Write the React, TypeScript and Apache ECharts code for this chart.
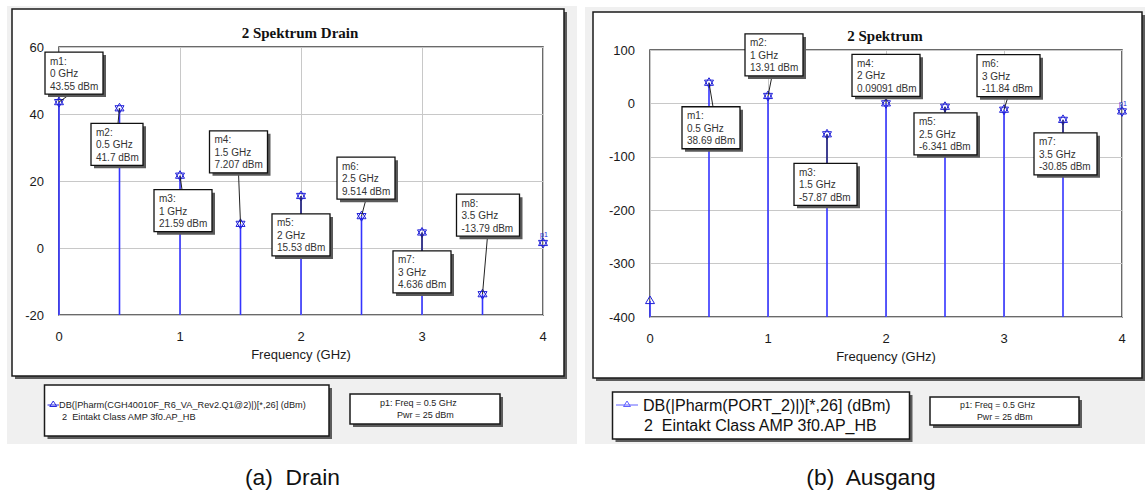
import { useEffect, useRef } from "react";
import * as echarts from "echarts";

// Harmonic frequencies (GHz) shared by both spectra
const freqGHz = [0, 0.5, 1, 1.5, 2, 2.5, 3, 3.5];

// Drain spectrum, dBm
const drainDbm = [43.55, 41.7, 21.59, 7.207, 15.53, 9.514, 4.636, -13.79];
const drainMarkers = ["m1", "m2", "m3", "m4", "m5", "m6", "m7", "m8"];

// Output (PORT_2) spectrum, dBm
const ausgangDbm = [-370, 38.69, 13.91, -57.87, 0.09091, -6.341, -11.84, -30.85];
const ausgangMarkers = ["", "m1", "m2", "m3", "m4", "m5", "m6", "m7"];

// p1 parameter marker at the end of the sweep
const p1FreqGHz = 4;
const drainP1Dbm = 1.5;
const ausgangP1Dbm = -15;

// Axis ranges: [min, max, step]
const freqAxis = [0, 4, 1];
const drainAxis = [-20, 60, 20];
const ausgangAxis = [-400, 100, 100];

// Texts
const drainTitle = "2 Spektrum Drain";
const ausgangTitle = "2 Spektrum";
const xAxisName = "Frequency (GHz)";
const drainLegend = ["DB(|Pharm(CGH40010F_R6_VA_Rev2.Q1@2)|)[*,26] (dBm)", "2  Eintakt Class AMP 3f0.AP_HB"];
const ausgangLegend = ["DB(|Pharm(PORT_2)|)[*,26] (dBm)", "2  Eintakt Class AMP 3f0.AP_HB"];
const p1Info = ["p1: Freq = 0.5 GHz", "Pwr = 25 dBm"];
const captions = ["(a)  Drain", "(b)  Ausgang"];

// Marker box placement relative to its point: [dx, dy, leader anchor x inside box]
const drainBoxLayout = [
  [-14, -50, 25],
  [-28.5, 15, 27],
  [-26, 14, 28],
  [-31, -93, 29],
  [-29, 18, 29],
  [-24.5, -59, 29],
  [-29, 18.5, 29],
  [-26, -100, 31],
];
const ausgangBoxLayout = [
  [-27, 24, 31],
  [-23, -62, 27],
  [-33, 29, 33],
  [-34, -49, 34],
  [-31, 6, 31],
  [-27, -55, 31],
  [-29, 13, 29],
];

const SANS = '"Liberation Sans", Arial, sans-serif';
const SERIF = '"Liberation Serif", "Times New Roman", serif';
const LINE_BLUE = "#3434ff";
const STAR_BLUE = "#2020d8";
const BOX_H = 42;

const upTri = (x: number, y: number) => ({
  type: "polygon",
  shape: { points: [[x, y - 5], [x + 4.5, y + 2.6], [x - 4.5, y + 2.6]] },
  style: { fill: "none", stroke: STAR_BLUE, lineWidth: 1 },
});
const downTri = (x: number, y: number) => ({
  type: "polygon",
  shape: { points: [[x, y + 5], [x + 4.5, y - 2.6], [x - 4.5, y - 2.6]] },
  style: { fill: "none", stroke: STAR_BLUE, lineWidth: 1 },
});

const spectrumRender = (yMin: number) => (_params: any, api: any) => {
  const f = api.value(0);
  const v = api.value(1);
  const marked = api.value(2) === 1;
  const top = api.coord([f, v]);
  const bottom = api.coord([f, yMin]);
  const children: any[] = [
    {
      type: "line",
      shape: { x1: top[0], y1: bottom[1], x2: top[0], y2: top[1] },
      style: { stroke: LINE_BLUE, lineWidth: 1.6 },
    },
    upTri(top[0], top[1]),
  ];
  if (marked) children.push(downTri(top[0], top[1]));
  return { type: "group", children };
};

const p1Render = (_params: any, api: any) => {
  const p = api.coord([api.value(0), api.value(1)]);
  return {
    type: "group",
    children: [
      downTri(p[0], p[1]),
      upTri(p[0], p[1]),
      {
        type: "text",
        x: p[0] - 3,
        y: p[1] - 8,
        style: { text: "p1", font: `7px ${SANS}`, fill: STAR_BLUE, align: "left", verticalAlign: "middle" },
      },
    ],
  };
};

type Marked = { n: string; f: number; v: number };
const markedPoints = (names: string[], values: number[]): Marked[] =>
  names
    .map((n, i) => (n ? { n, f: freqGHz[i], v: values[i] } : null))
    .filter((p): p is Marked => p !== null);

const boxRender = (points: Marked[], layout: number[][]) => (_params: any, api: any) => {
  const k = api.value(2);
  const pt = points[k];
  const [px, py] = api.coord([api.value(0), api.value(1)]);
  const [dx, dy, ax] = layout[k];
  const lines = [`${pt.n}:`, `${pt.f} GHz`, `${pt.v} dBm`];
  const w = Math.round(Math.max(...lines.map((s) => s.length)) * 5.3 + 10);
  const bx = px + dx;
  const by = py + dy;
  const anchorY = dy < 0 ? by + BOX_H : by;
  return {
    type: "group",
    children: [
      {
        type: "line",
        shape: { x1: bx + ax, y1: anchorY, x2: px, y2: py },
        style: { stroke: "#222", lineWidth: 1 },
      },
      { type: "rect", shape: { x: bx + 3, y: by + 3, width: w, height: BOX_H }, style: { fill: "#5a5a5a" } },
      {
        type: "rect",
        shape: { x: bx, y: by, width: w, height: BOX_H },
        style: { fill: "#fff", stroke: "#111", lineWidth: 1.3 },
      },
      ...lines.map((s, j) => ({
        type: "text",
        x: bx + 5,
        y: by + 9 + j * 12.5,
        style: { text: s, font: `10px ${SANS}`, fill: "#333", align: "left", verticalAlign: "middle" },
      })),
    ],
  };
};

const xAxisFor = (gridIndex: number, nameGap: number) => ({
  gridIndex,
  type: "value",
  min: freqAxis[0],
  max: freqAxis[1],
  interval: freqAxis[2],
  axisLine: { show: false },
  axisTick: { show: false },
  splitLine: { show: true, lineStyle: { color: "#c8c8c8", width: 1 } },
  axisLabel: { margin: 15, fontSize: 13, color: "#1a1a1a", fontFamily: SANS },
  name: xAxisName,
  nameLocation: "middle",
  nameGap,
  nameTextStyle: { fontSize: 13, color: "#1a1a1a", fontFamily: SANS },
});

const yAxisFor = (gridIndex: number, range: number[]) => ({
  gridIndex,
  type: "value",
  min: range[0],
  max: range[1],
  interval: range[2],
  axisLine: { show: false },
  axisTick: { show: false },
  splitLine: { show: true, lineStyle: { color: "#c8c8c8", width: 1 } },
  axisLabel: { margin: 15, fontSize: 13, color: "#1a1a1a", fontFamily: SANS },
});

const panel = (x: number, y: number, w: number, h: number, stroke = "#1a1a1a") => [
  { type: "rect", z: -10, shape: { x: x + 3, y: y + 3, width: w, height: h }, style: { fill: "#5c5c5c" } },
  { type: "rect", z: -9, shape: { x, y, width: w, height: h }, style: { fill: "#fff", stroke, lineWidth: 1.5 } },
];

const txt = (x: number, y: number, text: string, font: string, fill = "#1a1a1a", align = "left") => ({
  type: "text",
  z: -5,
  x,
  y,
  style: { text, font, fill, align, verticalAlign: "middle" },
});

const legendSymbol = (x1: number, x2: number, y: number, color: string) => [
  { type: "line", z: -5, shape: { x1, y1: y, x2, y2: y }, style: { stroke: color, lineWidth: 1 } },
  {
    type: "polygon",
    z: -5,
    shape: {
      points: [
        [(x1 + x2) / 2, y - 4],
        [(x1 + x2) / 2 + 3.5, y + 1.5],
        [(x1 + x2) / 2 - 3.5, y + 1.5],
      ],
    },
    style: { fill: "none", stroke: color, lineWidth: 1 },
  },
];

export default function App() {
  const ref = useRef<HTMLDivElement>(null);

  useEffect(() => {
    if (!ref.current) return;
    const chart = echarts.init(ref.current, undefined, { renderer: "svg" });

    const drainMarked = markedPoints(drainMarkers, drainDbm);
    const ausgangMarked = markedPoints(ausgangMarkers, ausgangDbm);

    const graphics: any[] = [
      // Drain window
      { type: "rect", z: -20, shape: { x: 7, y: 6, width: 570, height: 438 }, style: { fill: "#f0f0f0" } },
      ...panel(12, 9, 552, 367),
      txt(300, 33, drainTitle, `bold 15px ${SERIF}`, "#111", "center"),
      ...panel(44.5, 385, 284.5, 51),
      ...legendSymbol(47.5, 59, 405, "#2a2ae0"),
      txt(59, 405, drainLegend[0], `9.2px ${SANS}`, "#222"),
      txt(62, 417, drainLegend[1], `9.2px ${SANS}`, "#222"),
      ...panel(350, 394, 150, 30),
      txt(380, 403, p1Info[0], `9px ${SANS}`, "#222"),
      txt(397, 415, p1Info[1], `9px ${SANS}`, "#222"),
      txt(292.5, 477, captions[0], `22.8px ${SANS}`, "#111", "center"),

      // Output window
      { type: "rect", z: -20, shape: { x: 585, y: 7, width: 560, height: 437 }, style: { fill: "#f0f0f0" } },
      ...panel(593, 12, 549, 366),
      txt(885, 36, ausgangTitle, `bold 15px ${SERIF}`, "#111", "center"),
      ...panel(612.5, 392, 297, 47),
      ...legendSymbol(616, 638, 405, "#6060ff"),
      txt(643, 405, ausgangLegend[0], `16.1px ${SANS}`, "#111"),
      txt(644, 425, ausgangLegend[1], `16px ${SANS}`, "#111"),
      ...panel(930, 397, 149, 28),
      txt(960, 405, p1Info[0], `8.8px ${SANS}`, "#222"),
      txt(977, 417, p1Info[1], `8.8px ${SANS}`, "#222"),
      txt(871, 477, captions[1], `22.8px ${SANS}`, "#111", "center"),
    ];

    chart.setOption({
      animation: false,
      grid: [
        { left: 59, top: 47, width: 484, height: 268, show: true, borderColor: "#3a3a3a", borderWidth: 1.5, backgroundColor: "transparent" },
        { left: 650, top: 50, width: 472, height: 267, show: true, borderColor: "#3a3a3a", borderWidth: 1.5, backgroundColor: "transparent" },
      ],
      xAxis: [xAxisFor(0, 31), xAxisFor(1, 32)],
      yAxis: [yAxisFor(0, drainAxis), yAxisFor(1, ausgangAxis)],
      graphic: { elements: graphics },
      series: [
        {
          type: "custom",
          xAxisIndex: 0,
          yAxisIndex: 0,
          z: 3,
          clip: false,
          renderItem: spectrumRender(drainAxis[0]),
          data: freqGHz.map((f, i) => [f, drainDbm[i], drainMarkers[i] ? 1 : 0]),
        },
        {
          type: "custom",
          xAxisIndex: 0,
          yAxisIndex: 0,
          z: 3,
          clip: false,
          renderItem: p1Render,
          data: [[p1FreqGHz, drainP1Dbm]],
        },
        {
          type: "custom",
          xAxisIndex: 0,
          yAxisIndex: 0,
          z: 5,
          clip: false,
          renderItem: boxRender(drainMarked, drainBoxLayout),
          data: drainMarked.map((p, k) => [p.f, p.v, k]),
        },
        {
          type: "custom",
          xAxisIndex: 1,
          yAxisIndex: 1,
          z: 3,
          clip: false,
          renderItem: spectrumRender(ausgangAxis[0]),
          data: freqGHz.map((f, i) => [f, ausgangDbm[i], ausgangMarkers[i] ? 1 : 0]),
        },
        {
          type: "custom",
          xAxisIndex: 1,
          yAxisIndex: 1,
          z: 3,
          clip: false,
          renderItem: p1Render,
          data: [[p1FreqGHz, ausgangP1Dbm]],
        },
        {
          type: "custom",
          xAxisIndex: 1,
          yAxisIndex: 1,
          z: 5,
          clip: false,
          renderItem: boxRender(ausgangMarked, ausgangBoxLayout),
          data: ausgangMarked.map((p, k) => [p.f, p.v, k]),
        },
      ],
    });

    return () => chart.dispose();
  }, []);

  return (
    <div
      ref={ref}
      style={{ position: "absolute", left: 0, top: 0, width: 1145, height: 492, background: "#fff" }}
    />
  );
}
